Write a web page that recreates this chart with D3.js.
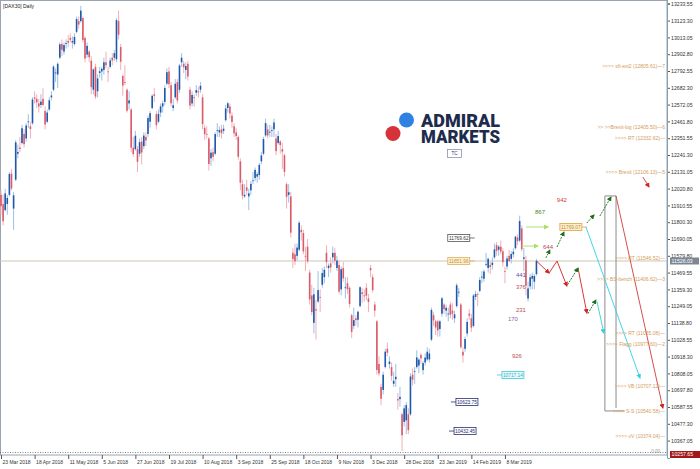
<!DOCTYPE html>
<html><head><meta charset="utf-8">
<script src="https://cdn.jsdelivr.net/npm/d3@7"></script>
<style>
body{margin:0;background:#fff}
svg{display:block;font-family:"Liberation Sans",Arial,sans-serif}
</style></head>
<body><svg id="c" width="700" height="469"></svg>
<script>
// ---------- DATA ----------
const opens = [11960,11900,11860,11900,11960,12100,11870,12060,12230,12270,12300,12360,12330,12440,12410,12430,12600,12590,12560,12550,
12590,12510,12440,12520,12600,12650,12760,12750,12860,12950,12900,12950,12970,12990,12960,12950,13030,13100,13100,13120,
12990,12880,12900,12840,12650,12800,12640,12760,12770,12780,12830,12770,12800,12860,12860,12850,13100,12930,12740,12700,
12650,12560,12520,12270,12260,12260,12230,12310,12280,12340,12360,12440,12530,12620,12490,12440,12500,12540,12570,12690,
12770,12680,12530,12600,12700,12650,12830,12820,12780,12820,12650,12560,12600,12630,12640,12650,12600,12400,12360,12330,
12200,12240,12230,12380,12370,12390,12380,12450,12530,12540,12480,12410,12370,12340,12180,12030,11950,12010,11950,11990,
12050,12070,12080,12090,12180,12230,12350,12390,12370,12380,12390,12330,12300,12310,12260,12220,12030,11960,11950,11580,
11570,11560,11600,11730,11710,11560,11620,11450,11300,11120,11210,11260,11290,11370,11420,11580,11480,11510,11550,11580,
11480,11500,11340,11480,11350,11380,11350,11170,11100,11150,11140,11230,11320,11300,11350,11280,11480,11420,11240,11130,
10850,10700,10680,10830,10950,10850,10830,10720,10750,10620,10620,10520,10470,10480,10520,10520,10780,10800,10830,10840,
10910,10810,10860,10880,10880,11010,11170,11130,11130,11080,11180,11240,11200,11180,11240,11200,11150,11230,11320,11240,
10930,10950,11050,11180,11150,11100,11290,11310,11330,11420,11410,11500,11480,11500,11500,11550,11630,11600,11620,11590,
11460,11490,11560,11540,11570,11610,11680,11660,11740,11540,11530,11280,11360,11410,11390,11440];
const highs = [11990,11960,12000,11960,12110,12130,11980,12320,12290,12340,12420,12390,12430,12490,12440,12600,12640,12620,12590,12620,
12660,12540,12520,12600,12640,12810,12790,12830,12960,12980,12960,12980,13010,13020,13000,13020,13130,13130,13200,13130,
13000,12960,12910,12870,12790,12820,12750,12800,12800,12860,12900,12800,12860,12890,12910,13120,13170,12950,12750,12810,
12660,12640,12530,12340,12380,12280,12330,12340,12370,12370,12480,12510,12620,12660,12510,12520,12560,12580,12680,12790,
12800,12700,12590,12720,12720,12820,12890,12840,12830,12840,12670,12640,12620,12680,12670,12700,12620,12420,12410,12340,
12260,12270,12370,12430,12410,12420,12420,12550,12570,12560,12500,12430,12400,12350,12200,12060,12030,12060,12000,12050,
12110,12140,12110,12170,12240,12340,12460,12420,12420,12410,12460,12360,12380,12320,12300,12230,12040,12030,11980,11610,
11640,11640,11790,11760,11730,11620,11670,11470,11370,11350,11270,11460,11340,11480,11490,11630,11510,11550,11620,11610,
11560,11530,11490,11520,11420,11420,11360,11180,11220,11170,11200,11360,11350,11340,11380,11310,11500,11440,11260,11140,
10900,10720,10800,10950,10990,10900,10860,10800,10850,10660,10700,10530,10580,10600,10560,10790,10820,10830,10940,10890,
10920,10870,10920,10960,10950,11220,11190,11140,11140,11140,11290,11250,11240,11220,11260,11250,11200,11380,11350,11250,
10960,11030,11150,11210,11180,11310,11330,11320,11420,11460,11470,11580,11550,11520,11550,11640,11650,11630,11660,11610,
11490,11560,11600,11590,11610,11690,11700,11823,11760,11610,11560,11390,11440,11450,11440,11540];
const lows = [11830,11760,11850,11830,11950,11990,11730,12050,12200,12240,12290,12270,12310,12400,12330,12420,12560,12530,12500,12530,
12540,12390,12430,12510,12580,12640,12700,12660,12850,12870,12880,12920,12930,12960,12920,12940,13020,13050,13090,12960,
12830,12860,12830,12620,12620,12590,12600,12730,12710,12750,12790,12700,12790,12810,12840,12830,12980,12780,12610,12680,
12500,12520,12240,12210,12250,12110,12210,12160,12260,12280,12340,12400,12520,12570,12390,12430,12470,12500,12550,12680,
12660,12540,12510,12590,12560,12630,12800,12760,12720,12710,12520,12540,12540,12610,12600,12630,12390,12320,12330,12120,
12150,12180,12220,12340,12340,12330,12360,12440,12500,12460,12400,12340,12320,12190,11990,11930,11940,11960,11860,11960,
12030,12050,12040,12060,12160,12220,12340,12330,12340,12340,12340,12220,12290,12230,12130,12080,11870,11910,11680,11480,
11500,11530,11590,11660,11570,11460,11510,11240,11170,11050,11010,11250,11190,11350,11380,11480,11420,11450,11510,11500,
11460,11310,11300,11390,11280,11310,11220,11020,11080,11100,11090,11220,11250,11260,11270,11190,11420,11320,11160,10780,
10770,10580,10650,10820,10900,10820,10740,10700,10700,10550,10570,10279,10440,10390,10390,10510,10710,10720,10820,10790,
10850,10780,10840,10870,10860,11000,11100,11040,11030,11030,11160,11180,11160,11130,11150,11140,11120,11220,11290,10950,
10860,10930,11030,11140,11060,11090,11270,11230,11320,11380,11390,11490,11450,11440,11470,11540,11560,11560,11570,11490,
11380,11470,11520,11510,11550,11600,11630,11650,11590,11460,11300,11260,11340,11340,11340,11430];
const closes = [11886,11787,11970,11940,12097,12002,11957,12305,12241,12261,12397,12293,12415,12442,12392,12586,12591,12567,12540,12572,
12550,12422,12500,12581,12612,12802,12763,12820,12948,12912,12943,12956,12959,12978,12970,12996,13114,13078,13169,12976,
12855,12938,12863,12667,12783,12605,12724,12771,12787,12830,12811,12767,12842,12842,12890,13107,13011,12834,12678,12695,
12512,12580,12270,12228,12348,12177,12306,12238,12349,12317,12464,12496,12610,12610,12417,12492,12541,12561,12661,12765,
12686,12561,12548,12689,12579,12809,12860,12798,12805,12737,12546,12616,12598,12648,12633,12676,12424,12358,12358,12163,
12237,12210,12359,12384,12385,12365,12394,12527,12561,12494,12438,12364,12346,12210,12040,11955,11960,11987,11970,12032,
12055,12124,12096,12157,12219,12326,12431,12350,12374,12385,12435,12247,12346,12287,12244,12111,11947,11977,11712,11539,
11524,11614,11777,11715,11589,11554,11524,11274,11191,11307,11201,11335,11287,11447,11468,11519,11495,11484,11579,11527,
11529,11325,11472,11412,11353,11341,11244,11061,11138,11138,11193,11354,11309,11299,11298,11257,11465,11335,11200,10811,
10788,10622,10780,10931,10924,10866,10772,10740,10766,10611,10634,10382,10559,10580,10416,10768,10747,10804,10893,10879,
10887,10856,10892,10931,10919,11205,11136,11090,11071,11130,11281,11210,11219,11181,11173,11180,11176,11367,11324,10960,
10906,11014,11126,11167,11089,11299,11309,11309,11401,11423,11457,11505,11540,11487,11515,11602,11592,11620,11588,11518,
11458,11543,11525,11572,11587,11686,11657,11788,11604,11550,11364,11346,11419,11428,11428,11526];

const xTickBars = [0,16,32,48,64,80,96,112,128,144,160,176,192,208,224,240];
const xTickLabels = ["23 Mar 2018","18 Apr 2018","11 May 2018","5 Jun 2018","27 Jun 2018","19 Jul 2018","10 Aug 2018","3 Sep 2018",
 "25 Sep 2018","18 Oct 2018","9 Nov 2018","3 Dec 2018","28 Dec 2018","23 Jan 2019","14 Feb 2019","8 Mar 2019"];
const yTickLabels = ["13233.55","13123.30","13013.05","12902.80","12792.55","12682.30","12572.05","12461.80","12351.55","12241.30",
 "12131.05","12020.80","11910.55","11800.30","11690.05","11579.80","11469.55","11359.30","11249.05","11138.80","11028.55",
 "10918.30","10808.05","10697.80","10587.55","10477.30","10367.05"];
const currentPrice = 11526.03;
const bottomPrice = 10257.65;

// Level labels on the right (price, text)
const levelPrices = [12805.61,12405.50,12332.62,12106.13,11546.52,11406.62,11055.08,10977.60,10707.12,10540.58,10374.04];
const levelTexts = [">>>> sft-ext2 (12805.61)\u20147",">> >>Brexit-log (12405.50)\u20146",">>>> RT (12332.62)\u2014",
 ">>>> Brexit (12106.13)\u20145",">>>> RT (11546.52)\u2014",">>>> BS-bench (11406.62)\u20143",">>>> RT (11055.08)\u2014",
 ">>>> Flagg (10977.60)\u20142",">>>> VB (10707.12)\u2014",">>>> S-S (10540.58)\u2014",">>>> vV (10374.04)\u2014"];

// Projection paths: [barIndex, price]
const redZig = [[255,11526],[261,11447],[264.8,11526],[269.5,11362]];
const redZig2 = [[274.8,11480],[279,11185]];
const greenSegs = [
  [[259.5,11546],[261.4,11598]],
  [[264.8,11618],[268.1,11716]],
  [[269.8,11370],[274.8,11480]],
  [[279.5,11180],[283.3,11270]],
  [[279,11775],[282.4,11828]],
  [[285.2,11821],[290.5,11946]]
];
const cyanSegs = [
  [[278.6,11749],[304.3,10758]],
  [[283.8,11262],[287.1,11053]]
];
const redLong = [[292.9,11953],[315.2,10561]];
const redSmall = [[305.7,12077],[308.6,12012]];
const limeArrows = [[[250,11749],[260.5,11749]],[[248,11624],[255.7,11624]]];
const boxLeftBar = 287.6, boxRightBar = 292.9, boxTop = 11953, boxBottom = 10542, boxTailBar = 297;

// Count labels
const countTexts = ["867","942","644","441","376","231","170","926"];
const countBars = [256.7,267.1,260.5,247.6,247.6,247.6,243.8,245.7];
const countPrices = [11848,11926,11618,11434,11355,11204,11145,10903];
const countColors = ["#3d8a2c","#d43a3a","#c0405a","#5656b4","#b8504c","#b8504c","#9a58a8","#b8504c"];

// Boxed price labels
const boxTexts = ["11769.62","11651.96","11769.07","10717.14","10623.75","10432.45"];
const boxBars = [218,218,271.4,243.8,221.9,221];
const boxPrices = [11677,11526,11749,10778,10601,10410];
const boxStroke = ["#555","#e0b060","#e0a040","#40c8d8","#283070","#283070"];
const boxFill = ["#fff","#fdf0d0","#fdf0d0","#e6fbfd","#fff","#fff"];
const boxText = ["#333","#c89040","#c88a30","#30b0c0","#202868","#202868"];

// ---------- CHART ----------
const svg = d3.select("#c");
const PR = 667, PB = 455;
const x = d3.scaleLinear().domain([0,316.7]).range([1,666]);
const y = d3.scaleLinear().domain([10252.9,13238.8]).range([PB,0]);

svg.append("rect").attr("width",700).attr("height",469).attr("fill","#fff");
svg.append("defs").append("clipPath").attr("id","pc").append("rect").attr("x",0).attr("y",0).attr("width",PR).attr("height",PB);

// frame
svg.append("rect").attr("x",0.5).attr("y",0.5).attr("width",PR-0.5).attr("height",PB-0.5)
  .attr("fill","none").attr("stroke","#9aa4b0").attr("stroke-width",1);
svg.append("line").attr("x1",0).attr("x2",PR).attr("y1",452.5).attr("y2",452.5)
  .attr("stroke","#666").attr("stroke-dasharray","1,1.5").attr("stroke-width",0.8);

const g = svg.append("g").attr("clip-path","url(#pc)");

// Logo
const logo = svg.append("g");
logo.append("circle").attr("cx",406.5).attr("cy",120).attr("r",7.5).attr("fill","#2f82e4");
logo.append("circle").attr("cx",393).attr("cy",133.5).attr("r",7.5).attr("fill","#d6323a");
const lt = logo.append("text").attr("font-family","Roboto,Arial,sans-serif").attr("font-weight",900)
  .attr("font-size",18).attr("fill","#1d2c4c");
lt.append("tspan").attr("x",421).attr("y",126.5).attr("textLength",79).attr("lengthAdjust","spacingAndGlyphs").text("ADMIRAL");
lt.append("tspan").attr("x",421).attr("y",143).attr("textLength",79).attr("lengthAdjust","spacingAndGlyphs").text("MARKETS");
logo.append("rect").attr("x",447.5).attr("y",149.5).attr("width",14).attr("height",8).attr("fill","#fff").attr("stroke","#8a94b0").attr("stroke-width",0.8);
logo.append("text").attr("x",454.5).attr("y",155.3).attr("text-anchor","middle").attr("font-size",4.5).attr("fill","#283070").text("TC");

// current price line
g.append("line").attr("x1",0).attr("x2",PR).attr("y1",y(currentPrice)).attr("y2",y(currentPrice))
  .attr("stroke","#cfc6b6").attr("stroke-width",1);

// candles
const bull = {body:"#1f58a8", wick:"#9cc0e6"};
const bear = {body:"#da5a6a", wick:"#f2afb8"};
const cg = g.append("g");
closes.forEach((c,i)=>{
  const o = opens[i], hi = highs[i], lo = lows[i];
  const col = c>=o ? bull : bear;
  const cx = x(i);
  cg.append("line").attr("x1",cx).attr("x2",cx).attr("y1",y(hi)).attr("y2",y(lo))
    .attr("stroke",col.wick).attr("stroke-width",1);
  const top = y(Math.max(o,c)), bot = y(Math.min(o,c));
  cg.append("rect").attr("x",cx-0.8).attr("width",1.6).attr("y",top).attr("height",Math.max(0.8,bot-top))
    .attr("fill",col.body);
});

// arrow markers
const defs = svg.select("defs");
function marker(id,color){
  defs.append("marker").attr("id",id).attr("viewBox","0 0 10 10").attr("refX",8).attr("refY",5)
    .attr("markerWidth",5).attr("markerHeight",5).attr("orient","auto-start-reverse").attr("markerUnits","userSpaceOnUse")
    .append("path").attr("d","M0,0L10,5L0,10z").attr("fill",color);
}
marker("mRed","#d42020"); marker("mGreen","#1e6e1e"); marker("mCyan","#30d0e0"); marker("mLime","#a8e060");
const line = d3.line().x(d=>x(d[0])).y(d=>y(d[1]));

// grey box
g.append("path").attr("d",line([[boxLeftBar,boxBottom],[boxLeftBar,boxTop],[boxRightBar,boxTop],[boxRightBar,boxBottom+20]]))
  .attr("fill","none").attr("stroke","#8c8c8c").attr("stroke-width",1);
g.append("path").attr("d",line([[boxLeftBar,boxBottom],[boxTailBar,boxBottom]]))
  .attr("fill","none").attr("stroke","#8c8c8c").attr("stroke-width",1);

// lime arrows
limeArrows.forEach(s=>g.append("path").attr("d",line(s)).attr("stroke","#b8e880").attr("stroke-width",1.2)
  .attr("fill","none").attr("marker-end","url(#mLime)"));

// red zig
g.append("path").attr("d",line(redZig.slice(0,2))).attr("stroke","#d42020").attr("fill","none").attr("stroke-width",0.9).attr("marker-end","url(#mRed)");
g.append("path").attr("d",line(redZig.slice(1))).attr("stroke","#d42020").attr("fill","none").attr("stroke-width",0.9).attr("marker-end","url(#mRed)");
g.append("path").attr("d",line(redZig2)).attr("stroke","#d42020").attr("fill","none").attr("stroke-width",0.9).attr("marker-end","url(#mRed)");
g.append("path").attr("d",line(redLong)).attr("stroke","#d03a3a").attr("fill","none").attr("stroke-width",0.9).attr("marker-end","url(#mRed)");
g.append("path").attr("d",line(redSmall)).attr("stroke","#d03a3a").attr("fill","none").attr("stroke-width",0.9).attr("marker-end","url(#mRed)");
greenSegs.forEach(s=>g.append("path").attr("d",line(s)).attr("stroke","#1e6e1e").attr("fill","none")
  .attr("stroke-width",0.9).attr("stroke-dasharray","2,1").attr("marker-end","url(#mGreen)"));
cyanSegs.forEach(s=>g.append("path").attr("d",line(s)).attr("stroke","#30d0e0").attr("fill","none")
  .attr("stroke-width",0.9).attr("marker-end","url(#mCyan)"));

// level labels
levelPrices.forEach((p,i)=>{
  g.append("text").attr("x",665).attr("y",y(p)).attr("dy","0.35em").attr("text-anchor","end")
   .attr("font-size",5).attr("fill","#d49c58").text(levelTexts[i]);
});

// count labels
countTexts.forEach((t,i)=>{
  g.append("text").attr("x",x(countBars[i])).attr("y",y(countPrices[i])).attr("dy","0.35em").attr("text-anchor","middle")
   .attr("font-size",6).attr("fill",countColors[i]).text(t);
});

// boxed labels
boxTexts.forEach((t,i)=>{
  const cx = x(boxBars[i]), cy = y(boxPrices[i]);
  const w = 22, h = 7;
  g.append("rect").attr("x",cx-w/2).attr("y",cy-h/2).attr("width",w).attr("height",h)
   .attr("fill",boxFill[i]).attr("stroke",boxStroke[i]).attr("stroke-width",0.8);
  g.append("text").attr("x",cx).attr("y",cy).attr("dy","0.35em").attr("text-anchor","middle")
   .attr("font-size",4.8).attr("fill",boxText[i]).text(t);
  const left = i>=3;
  g.append("line").attr("x1",left?cx-w/2-5:cx+w/2).attr("x2",left?cx-w/2:cx+w/2+5).attr("y1",cy).attr("y2",cy)
   .attr("stroke",boxStroke[i]).attr("stroke-width",0.8);
});

// title
svg.append("text").attr("x",3).attr("y",8).attr("font-size",5).attr("fill","#222").text("[DAX30] Daily");
svg.append("text").attr("x",660).attr("y",453).attr("text-anchor","end").attr("font-size",4.5).attr("fill","#999").text("0.00");

// Y axis
const yAxis = d3.axisRight(y).tickValues(yTickLabels.map(Number)).tickSize(3).tickFormat((d,i)=>yTickLabels[i]);
const ya = svg.append("g").attr("transform",`translate(${PR},3)`).call(yAxis);
ya.select(".domain").attr("stroke","#8aa0b8");
ya.selectAll(".tick line").attr("stroke","#555");
ya.selectAll(".tick text").attr("font-size",5.2).attr("fill","#333").attr("x",4).attr("font-family","'Liberation Sans',Arial,sans-serif");
svg.append("line").attr("x1",PR+0.5).attr("x2",PR+0.5).attr("y1",0).attr("y2",PB).attr("stroke","#8aa0b8");

// current price tag
svg.append("rect").attr("x",PR+3).attr("y",y(currentPrice)-3.5).attr("width",29).attr("height",7).attr("fill","#7d8794");
svg.append("text").attr("x",PR+4.5).attr("y",y(currentPrice)).attr("dy","0.35em").attr("font-size",5.2).attr("fill","#fff").text(currentPrice.toFixed(2));
svg.append("rect").attr("x",PR+3).attr("y",PB-4).attr("width",30).attr("height",7).attr("fill","#a01818");
svg.append("text").attr("x",PR+4.5).attr("y",PB-0.5).attr("dy","0.35em").attr("font-size",5.2).attr("fill","#fff").text(bottomPrice.toFixed(2));

// X axis
const xAxis = d3.axisBottom(x).tickValues(xTickBars).tickSize(4).tickFormat((d,i)=>xTickLabels[i]);
const xa = svg.append("g").attr("transform",`translate(0,${PB})`).call(xAxis);
xa.select(".domain").remove();
xa.selectAll(".tick line").attr("stroke","#555");
xa.selectAll(".tick text").attr("font-size",5).attr("fill","#333").attr("text-anchor","start").attr("x",1).attr("y",5)
  .attr("font-family","'Liberation Sans',Arial,sans-serif");
</script>
</body></html>
